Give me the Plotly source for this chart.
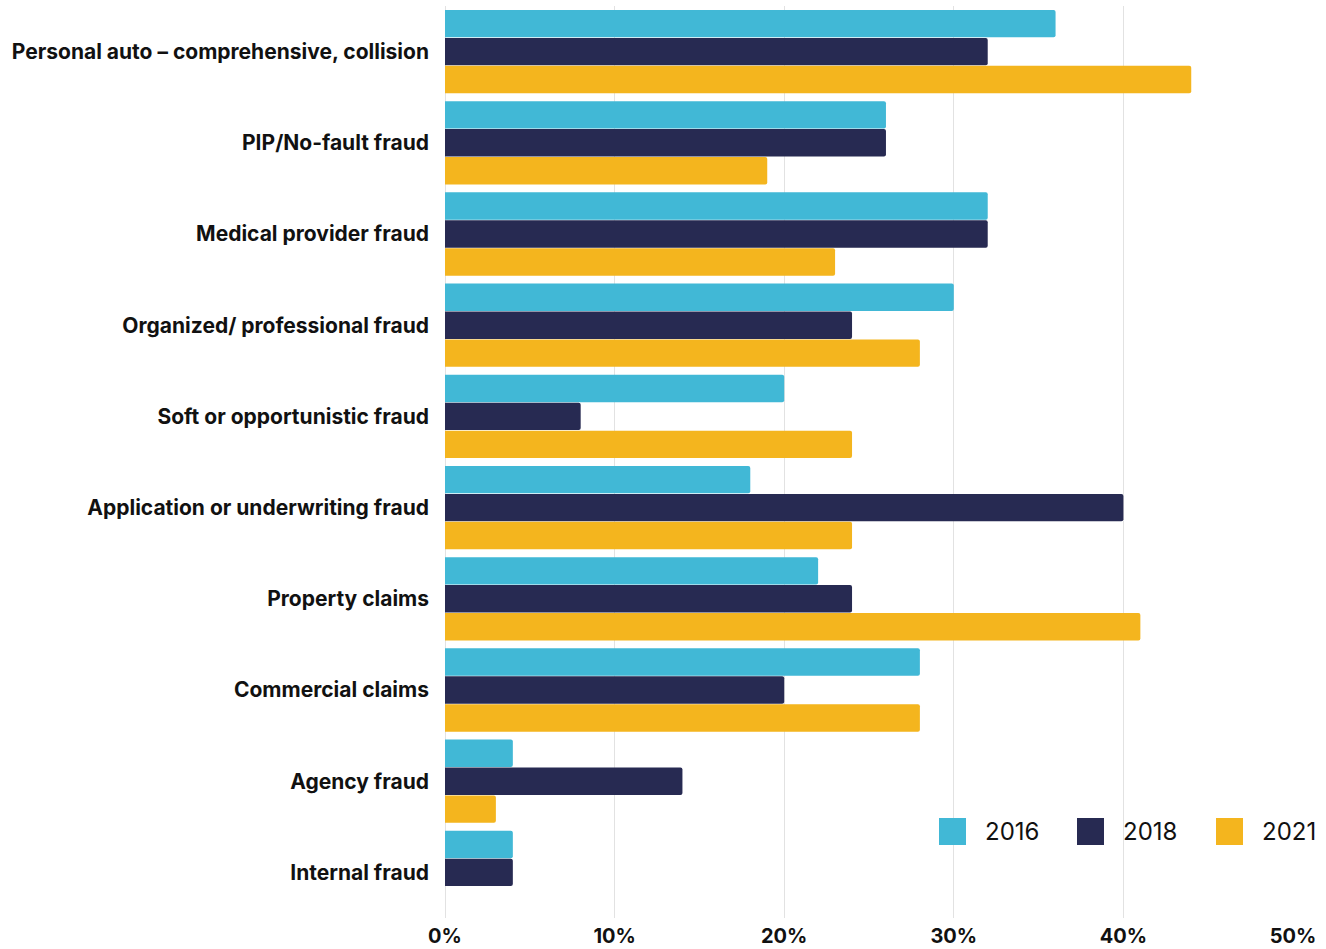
import plotly.graph_objects as go

categories = [
    "Personal auto – comprehensive, collision",
    "PIP/No-fault fraud",
    "Medical provider fraud",
    "Organized/ professional fraud",
    "Soft or opportunistic fraud",
    "Application or underwriting fraud",
    "Property claims",
    "Commercial claims",
    "Agency fraud",
    "Internal fraud",
]
years = ["2016", "2018", "2021"]
values_2016 = [36, 26, 32, 30, 20, 18, 22, 28, 4, 4]
values_2018 = [32, 26, 32, 24, 8, 40, 24, 20, 14, 4]
values_2021 = [44, 19, 23, 28, 24, 24, 41, 28, 3, 0]
colors = ["#41B8D6", "#272A52", "#F4B51E"]
x_ticks = [0, 10, 20, 30, 40, 50]
x_tick_labels = ["0%", "10%", "20%", "30%", "40%", "50%"]

fig = go.Figure()
for name, vals, col in zip(years, [values_2016, values_2018, values_2021], colors):
    fig.add_trace(go.Bar(
        y=categories, x=vals, name=name, orientation="h",
        marker=dict(color=col, line=dict(width=0), cornerradius=2),
        showlegend=False,
    ))

# custom legend (large squares) in paper coords
L, R, T, B = 445, 1293, 6, 918
pw, ph = R - L, B - T
def px(x):
    return (x - L) / pw
def py(y):
    return (B - y) / ph

leg_x = [939, 1077, 1216]
for i, (name, col) in enumerate(zip(years, colors)):
    fig.add_shape(type="rect", xref="paper", yref="paper",
                  x0=px(leg_x[i]), x1=px(leg_x[i] + 27), y0=py(845), y1=py(818),
                  fillcolor=col, line=dict(width=0))
    fig.add_annotation(xref="paper", yref="paper", x=px(leg_x[i] + 44), y=py(831),
                       text=name, showarrow=False, xanchor="left", yanchor="middle",
                       font=dict(family="Inter", size=24, color="#111111"))

fig.update_layout(
    width=1326, height=949,
    margin=dict(l=L, r=1326 - R, t=T, b=949 - B),
    barmode="group", bargap=0.08, bargroupgap=0.02,
    plot_bgcolor="white", paper_bgcolor="white",
    font=dict(family="Inter", color="#111111"),
)
fig.update_xaxes(
    range=[0, 50], tickvals=x_ticks, ticktext=x_tick_labels,
    showgrid=True, gridcolor="#E2E2E2", gridwidth=1,
    zeroline=True, zerolinecolor="#E2E2E2", zerolinewidth=1,
    showline=False, ticks="", ticklabelstandoff=4, automargin=False,
    tickfont=dict(family="Inter", size=20, color="#111111", weight="bold"),
)
fig.update_yaxes(
    autorange="reversed", showgrid=False, showline=False, ticks="",
    ticklabelstandoff=15, automargin=False,
    tickfont=dict(family="Inter", size=21, color="#111111", weight="bold"),
)
fig.write_html("out.html", config={"displayModeBar": False},
               post_script="document.body.style.margin='0';document.body.style.overflow='hidden';")
